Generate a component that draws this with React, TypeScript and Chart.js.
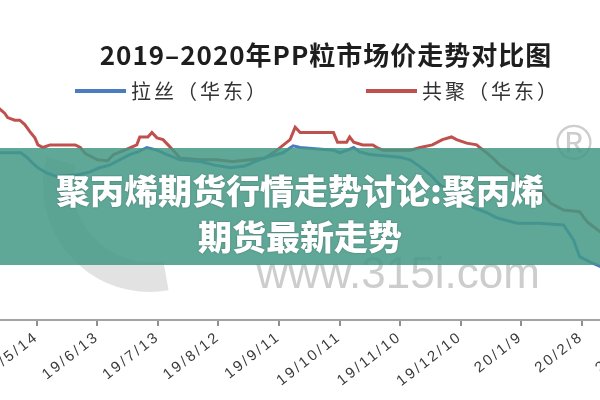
import React, { useEffect, useRef } from 'react';
import { Chart, registerables } from 'chart.js';

Chart.register(...registerables);

const chartTitle = '2019–2020年PP粒市场价走势对比图';
const seriesNames = ['拉丝（华东）', '共聚（华东）'];
const seriesColors = ['#4a7cbf', '#c0504d'];
const bannerLines = ['聚丙烯期货行情走势讨论:聚丙烯', '期货最新走势'];
const watermarkText = 'www.315i.com';

// days counted from 2019/5/14
const tickDays = [0, 30, 60, 90, 120, 150, 180, 210, 240, 270, 300];
const tickLabels = ['19/5/14', '19/6/13', '19/7/13', '19/8/12', '19/9/11', '19/10/11', '19/11/10', '19/12/10', '20/1/9', '20/2/8', '20/3/9'];

const lasiDays = [-19, -8, -5, -2, 0.5, 5, 10, 15, 20, 26, 31, 36, 41, 46, 50, 54.5, 59.5, 64.5, 71, 81, 88, 96, 103, 108, 114, 122, 127, 130.5, 147, 150, 154, 157, 160, 165, 180, 185, 190, 195, 200, 206, 211, 216, 223, 228, 238, 249, 261, 266, 269, 274, 280];
const lasiPrices = [8900, 8900, 8850, 8780, 8730, 8670, 8630, 8640, 8650, 8680, 8730, 8760, 8820, 8880, 8910, 8960, 8930, 8880, 8820, 8800, 8760, 8730, 8750, 8800, 8850, 8900, 8980, 8960, 8930, 8900, 8930, 8960, 8910, 8880, 8850, 8820, 8740, 8650, 8530, 8460, 8400, 8280, 8220, 8160, 8100, 8100, 8080, 7910, 7720, 7660, 7600];

const gongjuDays = [-19, -16, -14.5, -11, -8.5, -6, -3.5, -1, 0.5, 3, 6.5, 15, 19, 21.5, 24, 30, 35, 38, 43.5, 47.5, 49.5, 51, 55, 57, 59.5, 62.5, 65, 67.5, 71, 81, 89, 97, 105.5, 113, 119, 125.5, 128, 130.5, 147, 149, 153.5, 155, 157, 161.5, 166.5, 168.5, 171.5, 185, 190, 196, 201, 205.5, 208, 213, 218, 219.5, 223, 226, 229.5, 234.5, 239.5, 244.5, 249.5, 254.5, 261, 269, 273, 280];
const gongjuPrices = [9410, 9350, 9300, 9270, 9270, 9220, 9140, 9070, 8990, 8960, 8990, 8990, 8990, 8960, 8890, 8820, 8810, 8880, 8930, 8970, 8990, 9080, 9080, 9130, 9070, 9050, 8990, 8930, 8840, 8820, 8820, 8800, 8820, 8840, 8930, 9050, 9190, 9130, 9130, 9020, 9020, 9080, 9020, 8990, 8990, 8960, 8930, 8930, 8960, 8990, 9050, 9080, 9050, 9010, 8990, 8960, 8900, 8840, 8760, 8680, 8590, 8520, 8480, 8330, 8250, 8230, 8110, 7990];

const headerPlugin = {
  id: 'header',
  beforeDraw(chart: any) {
    (chart.ctx as any).letterSpacing = '2.5px';
  },
  afterDraw(chart: any) {
    const ctx = chart.ctx as CanvasRenderingContext2D;
    ctx.save();
    ctx.fillStyle = '#1e1e1e';
    ctx.font = 'bold 26px "Noto Sans CJK SC"';
    ctx.textAlign = 'center';
    ctx.textBaseline = 'middle';
    (ctx as any).letterSpacing = '1px';
    ctx.fillText(chartTitle, 326, 55);
    const items = [
      { x: 75, name: seriesNames[0], color: seriesColors[0] },
      { x: 366, name: seriesNames[1], color: seriesColors[1] },
    ];
    ctx.font = '20px "Noto Sans CJK SC"';
    (ctx as any).letterSpacing = '3px';
    ctx.textAlign = 'left';
    items.forEach((it) => {
      ctx.strokeStyle = it.color;
      ctx.lineWidth = 4;
      ctx.beginPath();
      ctx.moveTo(it.x, 91);
      ctx.lineTo(it.x + 51, 91);
      ctx.stroke();
      ctx.fillStyle = '#333333';
      ctx.fillText(it.name, it.x + 56, 91);
    });
    ctx.restore();
    (ctx as any).letterSpacing = '0px';
  },
};

const watermarkPlugin = {
  id: 'watermark',
  beforeDatasetsDraw(chart: any) {
    const ctx = chart.ctx as CanvasRenderingContext2D;
    (ctx as any).letterSpacing = '0px';
    ctx.save();
    ctx.strokeStyle = '#e2e2e2';
    ctx.lineWidth = 30;
    ctx.beginPath();
    ctx.arc(150, 185, 92, (80 * Math.PI) / 180, (195 * Math.PI) / 180);
    ctx.stroke();
    ctx.fillStyle = '#cdcdcd';
    ctx.font = '44px "Liberation Sans"';
    ctx.textAlign = 'center';
    ctx.textBaseline = 'alphabetic';
    ctx.fillText(watermarkText, 398, 288);
    ctx.font = '50px "Liberation Sans"';
    ctx.textBaseline = 'middle';
    ctx.fillText('®', 574, 146);
    ctx.restore();
  },
};

export default function App() {
  const canvasRef = useRef<HTMLCanvasElement | null>(null);

  useEffect(() => {
    if (!canvasRef.current) return;
    const chart = new Chart(canvasRef.current, {
      type: 'line',
      data: {
        datasets: [
          {
            label: seriesNames[0],
            data: lasiDays.map((d, i) => ({ x: d, y: lasiPrices[i] })),
            borderColor: seriesColors[0],
            borderWidth: 3,
            pointRadius: 0,
            tension: 0,
          },
          {
            label: seriesNames[1],
            data: gongjuDays.map((d, i) => ({ x: d, y: gongjuPrices[i] })),
            borderColor: seriesColors[1],
            borderWidth: 3,
            pointRadius: 0,
            tension: 0,
          },
        ],
      },
      options: {
        animation: false,
        responsive: false,
        maintainAspectRatio: false,
        layout: { padding: { top: 100, left: 0, right: 0, bottom: 0 } },
        plugins: {
          legend: { display: false },
          title: { display: false },
          tooltip: { enabled: false },
        },
        scales: {
          x: {
            type: 'linear',
            bounds: 'data',
            min: -18.3,
            max: 279.1,
            afterBuildTicks: (s: any) => {
              s.ticks = tickDays.map((v) => ({ value: v }));
            },
            afterFit: (s: any) => {
              s.paddingLeft = 0;
              s.paddingRight = 0;
              s.height = 80;
            },
            ticks: {
              autoSkip: false,
              minRotation: 38,
              maxRotation: 38,
              padding: 2,
              color: '#3a3a3a',
              font: { size: 15, family: '"Liberation Sans", Arial' },
              callback: (_v: any, i: number) => tickLabels[i],
            },
            grid: {
              display: true,
              drawOnChartArea: false,
              drawTicks: true,
              tickLength: 6,
              color: '#8f8f8f',
              lineWidth: 2,
            },
            border: { display: true, color: '#a3a3a3', width: 2 },
          },
          y: {
            display: false,
            min: 7000,
            max: 9500,
          },
        },
      },
      plugins: [watermarkPlugin, headerPlugin],
    } as any);
    return () => chart.destroy();
  }, []);

  return (
    <div style={{ position: 'fixed', left: 0, top: 0, width: 600, height: 400, background: '#fff', overflow: 'hidden' }}>
      <canvas ref={canvasRef} width={600} height={400} style={{ position: 'absolute', left: 0, top: 0 }} />
      <div
        style={{
          position: 'absolute',
          left: 0,
          top: 148,
          width: 600,
          height: 117,
          boxSizing: 'border-box',
          paddingTop: 19,
          background: 'rgba(67,153,134,0.85)',
          color: '#fff',
          fontFamily: '"Noto Sans CJK SC", sans-serif',
          fontWeight: 900,
          fontSize: 34,
          lineHeight: '46px',
          textAlign: 'center',
          textShadow: '0 0 2px rgba(0,0,0,0.35)',
        }}
      >
        {bannerLines.map((t) => (
          <div key={t}>{t}</div>
        ))}
      </div>
    </div>
  );
}
